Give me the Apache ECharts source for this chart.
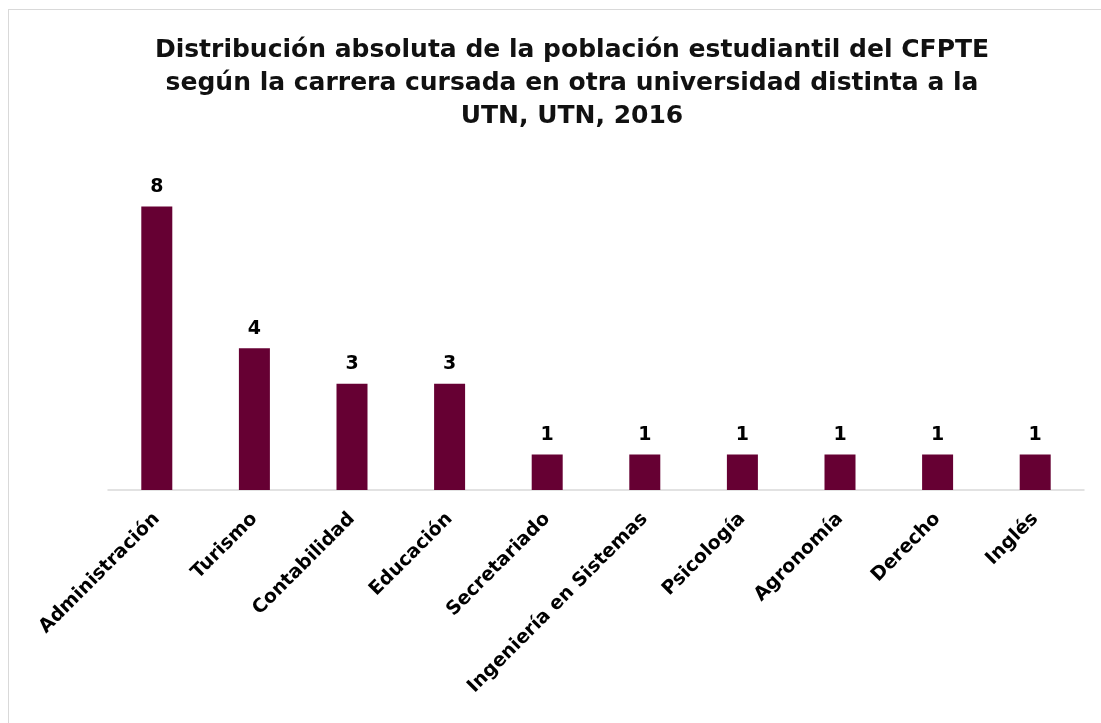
<!DOCTYPE html>
<html>
<head>
<meta charset="utf-8">
<script src="https://cdn.jsdelivr.net/npm/echarts@6/dist/echarts.min.js"></script>
<style>
    html, body { margin: 0; padding: 0; background: #fff; }
    #chart { position: absolute; left: 8px; top: 9px; width: 1110px; height: 730px; border: 1px solid #d9d9d9; box-sizing: border-box; }
</style>
</head>
<body>
<div id="chart"></div>
<script>
const titleText = 'Distribución absoluta de la población estudiantil del CFPTE\nsegún la carrera cursada en otra universidad distinta a la\nUTN, UTN, 2016';
const carreras = ['Administración', 'Turismo', 'Contabilidad', 'Educación', 'Secretariado',
    'Ingeniería en Sistemas', 'Psicología', 'Agronomía', 'Derecho', 'Inglés'];
const estudiantes = [8, 4, 3, 3, 1, 1, 1, 1, 1, 1];

const chart = echarts.init(document.getElementById('chart'));
chart.setOption({
    animation: false,
    textStyle: { fontFamily: '"DejaVu Sans", sans-serif' },
    title: {
        text: titleText,
        left: 566 - 8,
        top: 19,
        textAlign: 'center',
        textStyle: { fontFamily: '"DejaVu Sans", sans-serif', fontSize: 25, fontWeight: 'bold', color: '#111', lineHeight: 33 }
    },
    grid: { left: 99, right: 1110 - (1085 - 8), top: 161, bottom: 730 - (491 - 9) },
    xAxis: {
        type: 'category',
        data: carreras,
        axisLine: { lineStyle: { color: '#d9d9d9', width: 1.5 } },
        axisTick: { show: false },
        axisLabel: { rotate: 45, color: '#000', fontSize: 19, fontWeight: 'bold', margin: 26, interval: 0 }
    },
    yAxis: {
        type: 'value',
        min: 0,
        max: 9,
        show: false,
        splitLine: { show: false }
    },
    series: [{
        type: 'bar',
        data: estudiantes,
        barWidth: 31,
        itemStyle: { color: '#660033' },
        label: { show: true, position: 'top', color: '#000', fontSize: 19, fontWeight: 'bold', distance: 10 }
    }]
});
</script>
</body>
</html>
